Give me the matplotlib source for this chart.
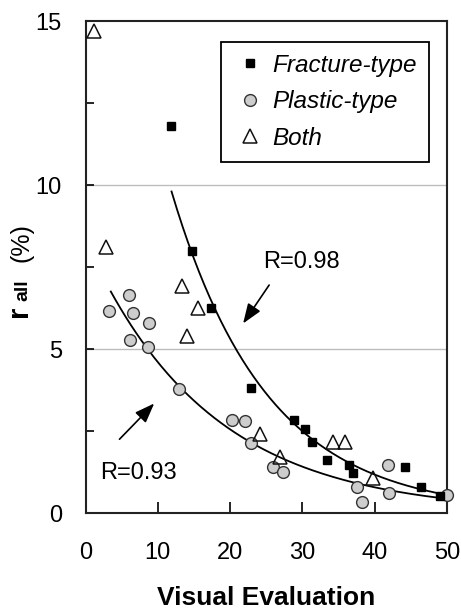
import numpy as np
import matplotlib
matplotlib.use("Agg")
import matplotlib.pyplot as plt
from matplotlib.lines import Line2D

plt.rcParams["font.family"] = ["Liberation Sans", "DejaVu Sans"]

# Fracture-type (filled squares)
frac_x = [11.8, 14.7, 17.3, 22.9, 28.9, 30.4, 31.3, 33.4, 36.5, 37.0, 44.2, 46.4, 49.0]
frac_y = [11.8, 7.99, 6.26, 3.82, 2.84, 2.56, 2.17, 1.62, 1.46, 1.21, 1.41, 0.78, 0.53]

# Plastic-type (grey circles)
plas_x = [3.3, 6.0, 6.6, 8.8, 6.1, 8.6, 12.9, 20.2, 22.0, 22.9, 26.0, 27.3, 37.6, 38.3, 41.8, 42.0, 50.0]
plas_y = [6.17, 6.65, 6.11, 5.78, 5.27, 5.07, 3.78, 2.84, 2.81, 2.12, 1.41, 1.24, 0.80, 0.33, 1.46, 0.60, 0.55]

# Both (open triangles)
both_x = [1.2, 2.8, 13.4, 15.6, 14.1, 24.1, 26.9, 34.3, 35.9, 39.8]
both_y = [14.7, 8.12, 6.92, 6.26, 5.40, 2.40, 1.72, 2.17, 2.17, 1.06]

# exponential fit curves y = a*exp(-b*x)
fit_frac = dict(a=24.1, b=0.0756, x0=11.9, x1=49.5)
fit_plas = dict(a=8.3, b=0.059, x0=3.5, x1=49.5)

fig = plt.figure(figsize=(4.61, 6.09), dpi=100)
ax = fig.add_axes([0.1855, 0.1576, 0.7841, 0.8079])

for fit in (fit_frac, fit_plas):
    xx = np.linspace(fit["x0"], fit["x1"], 200)
    ax.plot(xx, fit["a"] * np.exp(-fit["b"] * xx), color="black", lw=1.3, zorder=2)

for yv in (5, 10):
    ax.axhline(yv, color="#bdbdbd", lw=1.0, zorder=0)

ax.plot(plas_x, plas_y, "o", ms=8.5, mfc="#cdcdcd", mec="#333333", mew=1.0,
        ls="none", zorder=3, clip_on=False)
ax.plot(frac_x, frac_y, "s", ms=6.2, mfc="black", mec="black", ls="none", zorder=4)
ax.plot(both_x, both_y, "^", ms=10, mfc="none", mec="#111111", mew=1.1,
        ls="none", zorder=4, clip_on=False)

# annotations
arrow = dict(arrowstyle="-|>,head_length=1.2,head_width=0.45", color="black", lw=1.2,
             shrinkA=0, shrinkB=0)
ax.annotate("", xy=(21.8, 5.78), xytext=(25.4, 6.95), arrowprops=arrow)
ax.annotate("", xy=(9.5, 3.34), xytext=(4.7, 2.25), arrowprops=arrow)
ax.text(24.6, 7.66, "R=0.98", fontsize=17, va="center", ha="left")
ax.text(2.0, 1.23, "R=0.93", fontsize=17, va="center", ha="left")

ax.set_xlim(0, 50)
ax.set_ylim(0, 15)
ax.set_xticks([0, 10, 20, 30, 40, 50])
ax.set_yticks([0, 5, 10, 15])
ax.set_yticks([2.5, 7.5, 12.5], minor=True)
ax.tick_params(axis="both", which="both", direction="in", labelsize=17, width=1.2)
ax.tick_params(axis="y", which="both", length=6, pad=17)
ax.tick_params(axis="x", length=8, pad=21)
for s in ax.spines.values():
    s.set_linewidth(1.5)
    s.set_color("#222222")

ax.set_xlabel("Visual Evaluation", fontsize=19, fontweight="bold")
ax.xaxis.set_label_coords(0.5, -0.148)

# y label: r_all (%)
ax.text(-0.162, 0.398, "r", transform=ax.transAxes, rotation=90, rotation_mode="anchor",
        ha="left", va="baseline", fontsize=21, fontweight="bold")
ax.text(-0.162, 0.431, "all", transform=ax.transAxes, rotation=90, rotation_mode="anchor",
        ha="left", va="baseline", fontsize=14, fontweight="bold")
ax.text(-0.157, 0.510, "(%)", transform=ax.transAxes, rotation=90, rotation_mode="anchor",
        ha="left", va="baseline", fontsize=18)

handles = [
    Line2D([], [], marker="s", ms=6.2, mfc="black", mec="black", ls="none"),
    Line2D([], [], marker="o", ms=8.5, mfc="#cdcdcd", mec="#333333", mew=1.0, ls="none"),
    Line2D([], [], marker="^", ms=10, mfc="none", mec="#111111", mew=1.1, ls="none"),
]
leg = ax.legend(handles, ["Fracture-type", "Plastic-type", "Both"],
                loc="upper right", bbox_to_anchor=(0.95, 0.958),
                prop={"size": 17.5, "style": "italic"}, frameon=True, fancybox=False,
                edgecolor="black", framealpha=1, handlelength=1.35, handletextpad=0.25,
                labelspacing=0.55, borderpad=0.5, borderaxespad=0)
leg.get_frame().set_linewidth(1.3)

fig.savefig("out.png", dpi=100, facecolor="white")
